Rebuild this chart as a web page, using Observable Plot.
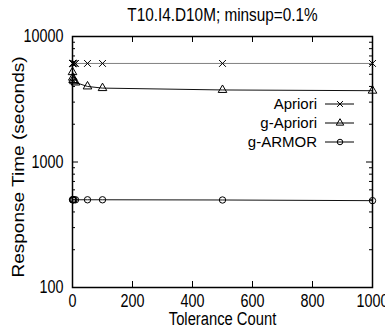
<!DOCTYPE html>
<html><head><meta charset="utf-8">
<script src="https://cdn.jsdelivr.net/npm/d3@7"></script>
<script src="https://cdn.jsdelivr.net/npm/@observablehq/plot@0.6"></script>
<style>body{margin:0;background:#fff} svg{display:block}</style>
</head><body><div id="chart"></div>
<script>
const title = "T10.I4.D10M; minsup=0.1%";
const xLabel = "Tolerance Count";
const yLabel = "Response Time (seconds)";
const tolerance = [0, 1, 2, 5, 10, 50, 100, 500, 1000];
const apriori  = [6100, 6100, 6100, 6100, 6100, 6100, 6100, 6100, 6100];
const gApriori = [5200, 4700, 4500, 4400, 4300, 4000, 3880, 3750, 3700];
const gArmor   = [500, 500, 500, 500, 500, 500, 500, 498, 492];
const seriesNames = ["Apriori", "g-Apriori", "g-ARMOR"];
const seriesSymbols = ["times", "triangle", "circle"];
const xTicks = [0, 200, 400, 600, 800, 1000];
const yTicks = [100, 1000, 10000];
const yMinor = [200,300,400,500,600,700,800,900,2000,3000,4000,5000,6000,7000,8000,9000];

const W = 385, H = 331, mL = 72, mR = 13, mT = 36, mB = 44;
const iw = W - mL - mR, ih = H - mT - mB;

const rows = [];
[apriori, gApriori, gArmor].forEach((vals, s) => {
  vals.forEach((v, i) => rows.push({series: seriesNames[s], x: tolerance[i], y: v}));
});
const font = "Liberation Sans, Arial, Helvetica, sans-serif";

const chart = Plot.plot({
  width: W, height: H,
  marginLeft: mL, marginRight: mR, marginTop: mT, marginBottom: mB,
  style: {fontFamily: font, fontSize: "17.5px", background: "#fff", color: "#000", overflow: "visible"},
  x: {domain: [0, 1000]},
  y: {type: "log", domain: [100, 10000]},
  marks: [
    Plot.axisX({ticks: xTicks, tickSize: 0, tickPadding: 7, tickFormat: d => String(d), label: null, fontSize: 17.5}),
    Plot.axisY({ticks: yTicks, tickSize: 0, tickPadding: 9, tickFormat: d => String(d), label: null, fontSize: 17.5}),
    // inward ticks
    Plot.tickX(xTicks, {x: d => d, insetTop: ih - 6, strokeWidth: 1}),
    Plot.tickX(xTicks, {x: d => d, insetBottom: ih - 6, strokeWidth: 1}),
    Plot.tickY(yTicks, {y: d => d, insetRight: iw - 6, strokeWidth: 1}),
    Plot.tickY(yTicks, {y: d => d, insetLeft: iw - 6, strokeWidth: 1}),
    Plot.tickY(yMinor, {y: d => d, insetRight: iw - 3, strokeWidth: 1}),
    Plot.tickY(yMinor, {y: d => d, insetLeft: iw - 3, strokeWidth: 1}),
    Plot.line(rows, {x: "x", y: "y", z: "series",
      stroke: d => d.series === "Apriori" ? "#808080" : "#111", strokeWidth: 1}),
    Plot.dot(rows, {x: "x", y: "y", r: 3.2,
      symbol: d => seriesSymbols[seriesNames.indexOf(d.series)],
      stroke: "#000", fill: "none", strokeWidth: 1}),
    Plot.frame({stroke: "#000", strokeWidth: 1.5}),
    Plot.text([title], {text: d => d, frameAnchor: "top", lineAnchor: "middle", dy: -21, fontSize: 18.7}),
    Plot.text([xLabel], {text: d => d, frameAnchor: "bottom", lineAnchor: "middle", dy: 32, fontSize: 18}),
    Plot.text([yLabel], {text: d => d, frameAnchor: "left", textAnchor: "middle", lineAnchor: "middle", dx: -54, dy: 5, rotate: -90, fontSize: 16})
  ]
});
document.getElementById("chart").appendChild(chart);

// the reference's lettering is horizontally condensed: squeeze texts with textLength
d3.select(chart).selectAll("text").each(function() {
  const t = this.textContent;
  const f = t === yLabel ? 1.19 : 0.82;
  const L = this.getComputedTextLength();
  if (L > 0) d3.select(this).attr("textLength", L * f).attr("lengthAdjust", "spacingAndGlyphs");
});

// legend (inside plot, top right)
const svg = d3.select(chart);
const lg = svg.append("g").attr("font-family", font).attr("font-size", 15);
const symMap = {times: d3.symbolTimes, triangle: d3.symbolTriangle, circle: d3.symbolCircle};
seriesNames.forEach((name, i) => {
  const cy = 104 + i * 19;
  lg.append("text").attr("x", 317).attr("y", cy).attr("dy", "0.35em")
    .attr("text-anchor", "end").text(name);
  lg.append("line").attr("x1", 325).attr("x2", 354).attr("y1", cy).attr("y2", cy)
    .attr("stroke", "#000").attr("stroke-width", 1);
  lg.append("path").attr("transform", `translate(340,${cy})`)
    .attr("d", d3.symbol(symMap[seriesSymbols[i]], 24)())
    .attr("fill", "none").attr("stroke", "#000").attr("stroke-width", 1);
});
</script>
</body></html>
